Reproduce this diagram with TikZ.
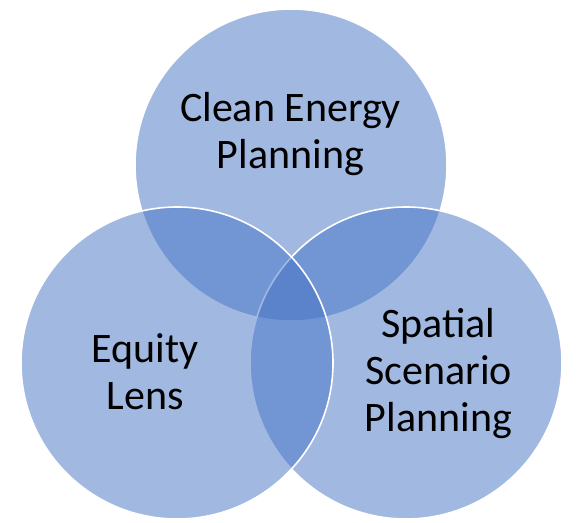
\documentclass[tikz,border=0pt]{standalone}
\usepackage{fontspec}
\setmainfont{Carlito}
\usepackage{tikz}
\usetikzlibrary{positioning}
\definecolor{vennblue}{HTML}{4472C4}
\tikzstyle{ensemble}=[
        circle,
        draw=white,
        line width=1.6pt,
        fill=vennblue,
        fill opacity=0.5,
        draw opacity=1,
        minimum size=312pt,
        inner sep=0pt
]
\tikzstyle{titre}=[align=center,text=black,inner sep=0pt,
        font=\fontsize{42}{47}\selectfont]

\begin{document}
\begin{tikzpicture}[x=1pt,y=-1pt]
\useasboundingbox (0,0) rectangle (577,522);
\node[ensemble] (clean) at (291,165) {};
\node[ensemble] (spatial) at (406,363) {};
\node[ensemble] (equity) at (177,363) {};
%Textes
\node[titre] (cleanlbl) at (290.5,134.5) {Clean Energy\\Planning};
\node[titre] (equitylbl) at (145,372) {Equity\\Lens};
\node[titre] (spatiallbl) at (438.5,373.5) {Spatial\\Scenario\\Planning};
\end{tikzpicture}
\end{document}
